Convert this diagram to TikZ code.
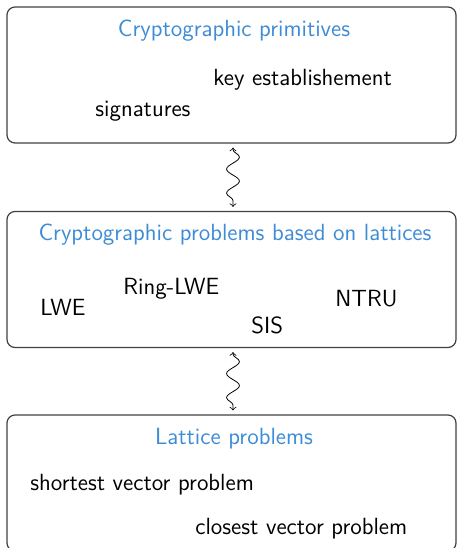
\documentclass[tikz,border=0pt]{standalone}
\usepackage{tikz}
\usetikzlibrary{decorations.pathmorphing}
\definecolor{titleblue}{RGB}{62,140,214}

\begin{document}
\begin{tikzpicture}[x=0.5pt,y=-0.5pt,
    every node/.style={font=\sffamily\fontsize{11.7}{14}\selectfont},
    blockbox/.style={draw=black!75,line width=0.6pt,rounded corners=4pt,
      minimum width=224.5pt,minimum height=68pt,inner sep=0pt},
    blocktitle/.style={anchor=base,text=titleblue,inner sep=0pt},
    item/.style={anchor=base west,inner sep=0pt},
    wavy/.style={<->,decorate,
      decoration={snake,segment length=12pt,amplitude=3.2pt,pre length=3pt,post length=3pt},
      shorten <=2pt,shorten >=2pt}]

  % Frame
  \useasboundingbox (0,0) rectangle (457,548);
  \clip (0,0) rectangle (457,548);

  % Blocks
  \node[blockbox] (prim) at (231.5,75) {};
  \node[blockbox] (latt) at (231.5,279.5) {};
  \node[blockbox] (hard) at (231.5,483) {};

  % Cryptographic primitives
  \node[blocktitle] (primtitle) at (234,36) {Cryptographic primitives};
  \node[item] (keyest) at (213,85) {key establishement};
  \node[item] (sig) at (95,116) {signatures};

  % Problems based on lattices
  \node[blocktitle] (latttitle) at (235,240) {Cryptographic problems based on lattices};
  \node[item] (rlwe) at (123,294) {Ring-LWE};
  \node[item] (lwe) at (40,315) {LWE};
  \node[item] (sis) at (251,333) {SIS};
  \node[item] (ntru) at (335,306) {NTRU};

  % Lattice problems
  \node[blocktitle] (hardtitle) at (234,444) {Lattice problems};
  \node[item] (svp) at (30,490) {shortest vector problem};
  \node[item] (cvp) at (195,534) {closest vector problem};

  % Links
  \draw[wavy] ([xshift=0.75pt]prim.south) -- ([xshift=0.75pt]latt.north);
  \draw[wavy] ([xshift=0.75pt]latt.south) -- ([xshift=0.75pt]hard.north);
\end{tikzpicture}
\end{document}
